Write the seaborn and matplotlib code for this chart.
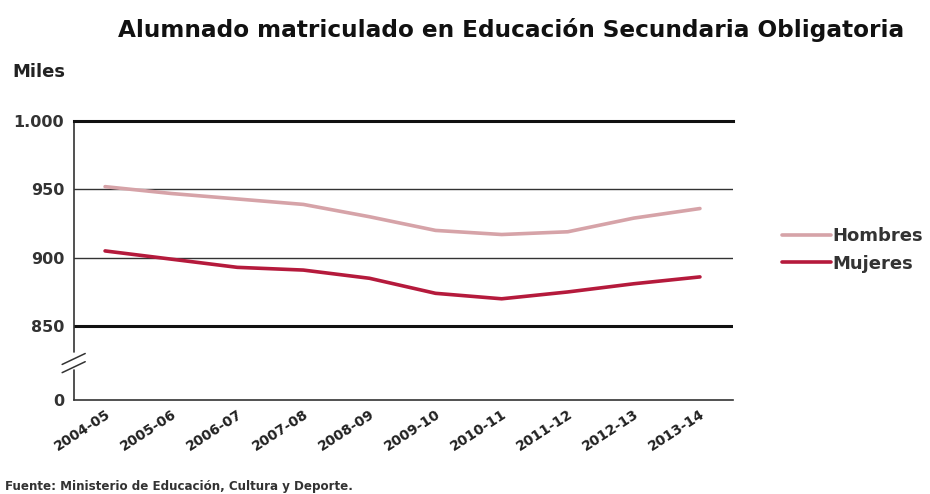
import matplotlib
matplotlib.use("Agg")
import matplotlib.pyplot as plt
import matplotlib.transforms as mtransforms
import seaborn as sns
import pandas as pd

# ---- data (miles de alumnos) ----
cursos = ["2004-05", "2005-06", "2006-07", "2007-08", "2008-09",
          "2009-10", "2010-11", "2011-12", "2012-13", "2013-14"]
hombres = [952, 947, 943, 939, 930, 920, 917, 919, 929, 936]
mujeres = [905, 899, 893, 891, 885, 874, 870, 875, 881, 886]
series_names = ["Hombres", "Mujeres"]
ytick_vals = [796, 850, 900, 950, 1000]   # 796 stands for the broken "0"
ytick_labels = ["0", "850", "900", "950", "1.000"]

df = pd.DataFrame({
    "curso": list(range(len(cursos))) * 2,
    "valor": hombres + mujeres,
    "serie": [series_names[0]] * len(cursos) + [series_names[1]] * len(cursos),
})

sns.set_theme(style="white")
plt.rcParams["font.family"] = ["DejaVu Sans"]

fig = plt.figure(figsize=(9.3, 4.94), dpi=100)
ax = fig.add_axes([74 / 930, 1 - 400 / 494, (733 - 74) / 930, (400 - 121) / 494])

palette = {"Hombres": "#d6a3a8", "Mujeres": "#b51a3c"}
sns.lineplot(data=df, x="curso", y="valor", hue="serie", palette=palette,
             linewidth=2.6, ax=ax, legend=True)

ax.set_xlim(-0.47, 9.5)
ax.set_ylim(796, 1000)

# grid lines
for v in [900, 950]:
    ax.axhline(v, color="#333333", lw=1.0, zorder=0.5)
ax.axhline(850, color="#111111", lw=2.2, zorder=0.5)

# spines
for s in ["right", "left"]:
    ax.spines[s].set_visible(False)
ax.spines["top"].set_color("#111111")
ax.spines["top"].set_linewidth(2.2)
ax.spines["bottom"].set_color("#333333")
ax.spines["bottom"].set_linewidth(1.2)

# broken left axis
trans = mtransforms.blended_transform_factory(ax.transAxes, ax.transData)
ax.plot([0, 0], [831, 1000], color="#333333", lw=1.2, transform=trans, clip_on=False)
ax.plot([0, 0], [796, 818], color="#333333", lw=1.2, transform=trans, clip_on=False)
for dy in [0, -6]:
    ax.plot([-0.018, 0.017], [822 + dy, 830 + dy], color="#333333", lw=1.1,
            transform=trans, clip_on=False)

ax.set_yticks(ytick_vals)
ax.set_yticklabels(ytick_labels, fontsize=11.5, fontweight="bold", color="#333333")
ax.tick_params(axis="y", length=0, pad=7)
ax.set_xticks(range(len(cursos)))
ax.set_xticklabels(cursos, rotation=33, ha="right", rotation_mode="anchor",
                   fontsize=10, fontweight="bold", color="#222222",
                   family=["Liberation Sans Narrow", "DejaVu Sans"])
ax.tick_params(axis="x", length=0, pad=5)
ax.set_xlabel("")
ax.set_ylabel("")

leg = ax.legend(loc="center left", bbox_to_anchor=(775 / 930, 1 - 250 / 494),
                bbox_transform=fig.transFigure, frameon=False,
                prop={"size": 13, "weight": "bold"},
                handlelength=2.7, handletextpad=0.1, labelspacing=0.5,
                borderaxespad=0)
for t in leg.get_texts():
    t.set_color("#333333")
for line in leg.get_lines():
    line.set_linewidth(2.6)

fig.text(511 / 930, 1 - 30 / 494, "Alumnado matriculado en Educación Secundaria Obligatoria",
         ha="center", va="center", fontsize=16.7, fontweight="bold", color="#111111")
fig.text(12 / 930, 1 - 72 / 494, "Miles", ha="left", va="center",
         fontsize=13, fontweight="bold", color="#222222")
fig.text(5 / 930, 1 - 486 / 494, "Fuente: Ministerio de Educación, Cultura y Deporte.",
         ha="left", va="center", fontsize=8.6, fontweight="bold", color="#333333")

fig.savefig("out.png", dpi=100)
